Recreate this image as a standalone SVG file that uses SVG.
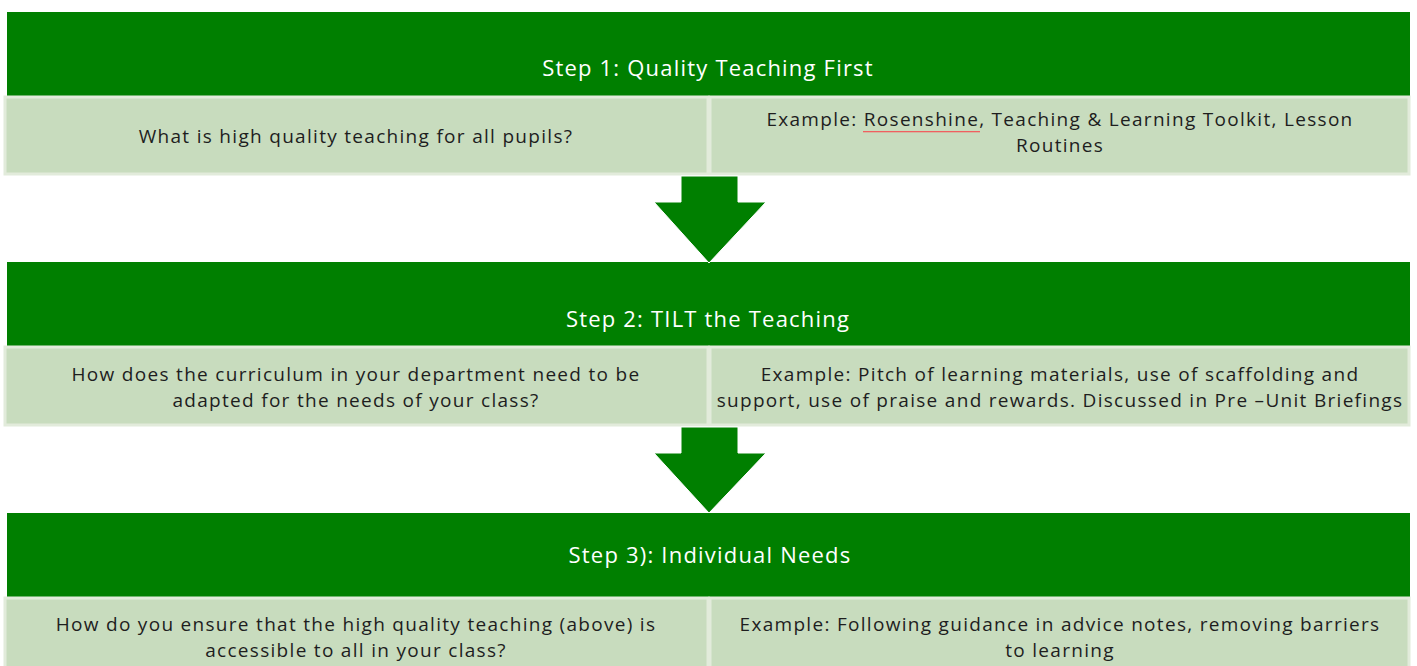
<svg xmlns="http://www.w3.org/2000/svg" width="1417" height="666" viewBox="0 0 1417 666">
  <style>
    .hdr { fill: #007f00; }
    .cell { fill: #c8dcbe; stroke: #e2ebdb; stroke-width: 3; }
    .htxt { font-family: "Open Sans", "Liberation Sans", sans-serif; font-size: 22px; letter-spacing: 1.2px; fill: #ffffff; text-anchor: middle; }
    .ctxt { font-family: "Open Sans", "Liberation Sans", sans-serif; font-size: 19px; letter-spacing: 1.3px; fill: #1e1e1e; text-anchor: middle; }
    .arrow { fill: #007f00; stroke: #ffffff; stroke-width: 1; }
    .spell { fill: #f06060; }
  </style>
  <rect width="1417" height="666" fill="#ffffff"/>

  <!-- Step 1 -->
  <g id="step1">
    <rect class="hdr" x="7" y="12" width="1403" height="85"/>
    <text class="htxt" x="708" y="76">Step 1: Quality Teaching First</text>
    <rect class="cell" x="5" y="97" width="703" height="77"/>
    <rect class="cell" x="710" y="97" width="699" height="77"/>
    <text class="ctxt" x="356" y="143">What is high quality teaching for all pupils?</text>
    <text class="ctxt" x="1060" y="126">Example: Rosenshine, Teaching &amp; Learning Toolkit, Lesson</text>
    <text class="ctxt" x="1060" y="152">Routines</text>
    <!-- spell-check mark under "Rosenshine" -->
    <rect class="spell" x="863" y="131" width="117" height="1.3"/>
  </g>

  <!-- Step 2 -->
  <g id="step2">
    <rect class="hdr" x="7" y="262" width="1403" height="85"/>
    <text class="htxt" x="708" y="327">Step 2: TILT the Teaching</text>
    <rect class="cell" x="5" y="347" width="703" height="78"/>
    <rect class="cell" x="710" y="347" width="699" height="78"/>
    <text class="ctxt" x="356" y="381">How does the curriculum in your department need to be</text>
    <text class="ctxt" x="356" y="407">adapted for the needs of your class?</text>
    <text class="ctxt" x="1060" y="381">Example: Pitch of learning materials, use of scaffolding and</text>
    <text class="ctxt" x="1060" y="407">support, use of praise and rewards. Discussed in Pre –Unit Briefings</text>
  </g>

  <!-- Step 3 -->
  <g id="step3">
    <rect class="hdr" x="7" y="513" width="1403" height="85"/>
    <text class="htxt" x="710" y="563">Step 3): Individual Needs</text>
    <rect class="cell" x="5" y="598" width="703" height="78"/>
    <rect class="cell" x="710" y="598" width="699" height="78"/>
    <text class="ctxt" x="356" y="631">How do you ensure that the high quality teaching (above) is</text>
    <text class="ctxt" x="356" y="657">accessible to all in your class?</text>
    <text class="ctxt" x="1060" y="631">Example: Following guidance in advice notes, removing barriers</text>
    <text class="ctxt" x="1060" y="657">to learning</text>
  </g>

  <!-- Down arrows between steps -->
  <g id="connectors">
    <polygon class="arrow" points="681,176 738,176 738,202 766,202 709,263 654,202 681,202"/>
    <polygon class="arrow" points="681,427 738,427 738,453 766,453 709,513 654,453 681,453"/>
  </g>
</svg>
